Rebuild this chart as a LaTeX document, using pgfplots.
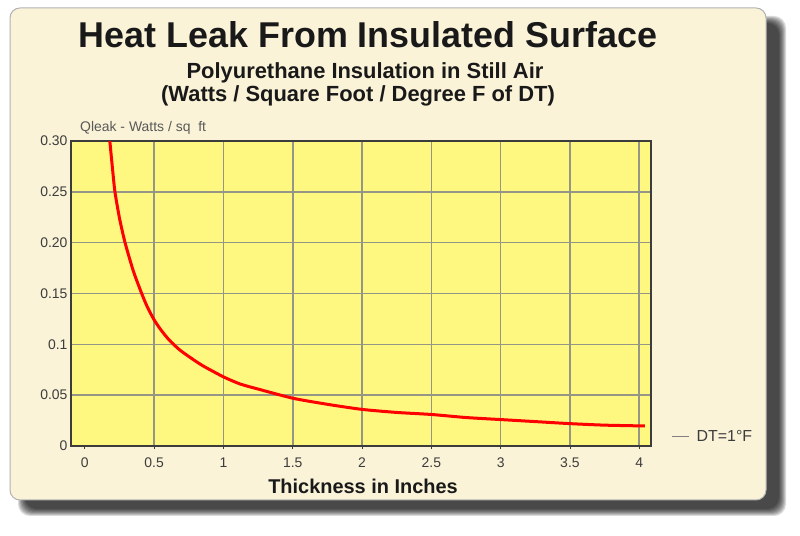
\documentclass[border=0pt]{standalone}
\usepackage{fontspec}
\setmainfont{Liberation Sans}
\usepackage{pgfplots}
\pgfplotsset{compat=1.18}
\definecolor{panel}{RGB}{250,243,216}
\definecolor{plotbg}{RGB}{255,248,128}
\definecolor{gridc}{RGB}{150,150,135}
\definecolor{axisc}{RGB}{60,60,60}
\definecolor{txt}{RGB}{25,25,25}
\begin{document}
\begin{tikzpicture}[x=1bp,y=1bp]
\useasboundingbox (0,0) rectangle (800,536);
\fill[white] (0,0) rectangle (800,536);
\foreach \k in {0,...,7}{
  \fill[black,opacity=0.14,rounded corners=12] (18+\k,20+\k) rectangle (786-\k,520-\k);
}
\fill[panel, draw=gray!60, line width=1bp, rounded corners=10] (10,36) rectangle (766,528);
\begin{axis}[
  at={(71bp,90bp)}, anchor=south west,
  width=580bp, height=305bp, scale only axis,
  xmin=-0.1, xmax=4.085, ymin=0, ymax=0.3,
  axis background/.style={fill=plotbg},
  axis line style={axisc, line width=1.8bp},
  xtick={0.5,1,1.5,2,2.5,3,3.5,4},
  xticklabels={0.5,1,1.5,2,2.5,3,3.5,4},
  extra x ticks={0}, extra x tick labels={0},
  extra x tick style={grid=none},
  ytick={0,0.05,0.1,0.15,0.2,0.25,0.3},
  yticklabels={0,0.05,0.1,0.15,0.20,0.25,0.30},
  grid=major,
  major grid style={gridc, line width=1.5bp},
  tick label style={font=\fontsize{14}{15}\selectfont, text=axisc},
  xticklabel style={yshift=-5bp},
  /pgf/number format/assume math mode=true,
  xtick pos=bottom, ytick pos=left,
  xtick align=outside, ytick align=inside,
  major tick length=3bp,
  x tick style={axisc, line width=0.8bp},
  y tick style={draw=none},
  legend style={at={(axis description cs:1.03,0.03)}, anchor=west,
    draw=none, fill=none, font=\fontsize{16}{17}\selectfont, text=axisc},
  legend cell align=left,
]
\addplot[red, line width=3bp, smooth, tension=0.4, forget plot] coordinates {
(0.18,0.300) (0.20,0.272) (0.217,0.250) (0.25,0.224) (0.29,0.200)
(0.35,0.172) (0.41,0.150) (0.45,0.137) (0.50,0.124) (0.55,0.114)
(0.61,0.104) (0.68,0.095) (0.75,0.088) (0.85,0.079) (1.00,0.068)
(1.12,0.061) (1.25,0.056) (1.50,0.047) (1.75,0.041) (2.00,0.036)
(2.25,0.033) (2.50,0.031) (2.75,0.028) (3.00,0.026) (3.25,0.024)
(3.50,0.022) (3.75,0.0205) (4.04,0.0197)
};
\addlegendimage{gray, line width=1bp}
\addlegendentry{\hspace{5bp}DT=1°F}
\end{axis}
\node[anchor=base, inner sep=0, text=txt, font=\fontsize{36}{38}\selectfont\bfseries] at (368,488) {Heat Leak From Insulated Surface};
\node[anchor=base, inner sep=0, text=txt, font=\fontsize{22}{24}\selectfont\bfseries] at (365,457) {Polyurethane Insulation in Still Air};
\node[anchor=base, inner sep=0, text=txt, font=\fontsize{22}{24}\selectfont\bfseries] at (358,434) {(Watts / Square Foot / Degree F of DT)};
\node[anchor=base west, inner sep=0, text=axisc!85, font=\fontsize{14}{15}\selectfont] at (80,404) {Qleak - Watts / sq\ \ ft};
\node[anchor=base, inner sep=0, text=txt, font=\fontsize{20}{22}\selectfont\bfseries] at (363,42) {Thickness in Inches};
\end{tikzpicture}
\end{document}
